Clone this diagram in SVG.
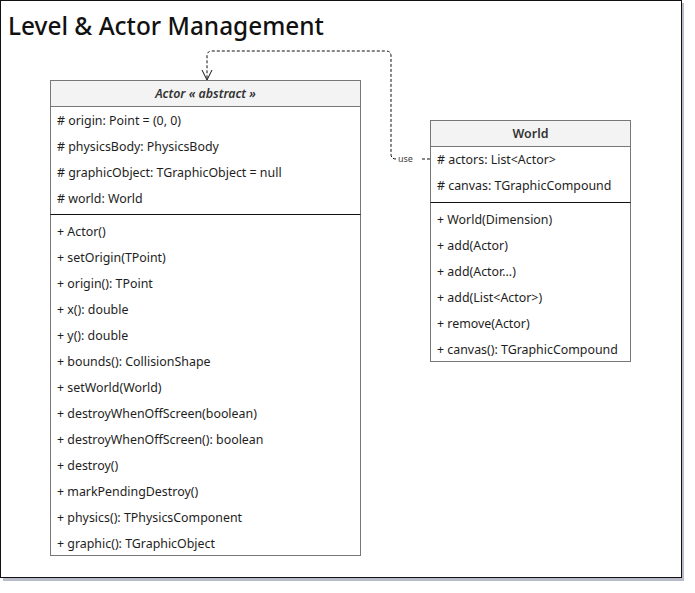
<svg xmlns="http://www.w3.org/2000/svg" width="695" height="593" viewBox="0 0 695 593">
<defs>
<style>
.t{font-family:"Noto Sans","Liberation Sans",sans-serif;font-size:12.4px;fill:#1e1e1e}
.h{font-family:"Noto Sans","Liberation Sans",sans-serif;font-size:12.4px;fill:#333;font-weight:600;text-anchor:middle}
.box{fill:#fff;stroke:#777;stroke-width:1}
.hd{fill:#f3f3f3;stroke:#777;stroke-width:1}
.sep{stroke:#111;stroke-width:1}
.conn{fill:none;stroke:#111;stroke-width:1;stroke-dasharray:3,2}
</style>
<marker id="open" viewBox="0 0 12 12" refX="11" refY="6" markerWidth="12" markerHeight="12" orient="auto" markerUnits="userSpaceOnUse">
<path d="M1,1 L11,6 L1,11" fill="none" stroke="#111" stroke-width="1"/>
</marker>
</defs>
<rect x="0" y="0" width="695" height="593" fill="#fff"/>
<rect x="3" y="3" width="681" height="578" fill="#b8bcc8"/>
<rect x="0.5" y="0.5" width="681" height="577" fill="#fff" stroke="#111" stroke-width="1"/>
<text x="8" y="35" style="font-family:'Noto Sans','Liberation Sans',sans-serif;font-size:24.4px;font-weight:550;fill:#111">Level &amp; Actor Management</text>

<g id="connectors">
<path class="conn" d="M430,159 L420,159 M396,159 Q391,159 391,154 L391,56 Q391,51 386,51 L212,51 Q207,51 207,56 L207,80" marker-end="url(#open)"/>
<text x="398" y="162" style="font-family:'Noto Sans','Liberation Sans',sans-serif;font-size:9px;fill:#444">use</text>
</g>

<g id="Actor">
<rect class="box" x="50.5" y="80.5" width="310" height="475"/>
<rect class="hd" x="50.5" y="80.5" width="310" height="26"/>
<text class="h" x="205.5" y="98" font-style="italic">Actor « abstract »</text>
<text class="t">
<tspan x="57" y="125"># origin: Point = (0, 0)</tspan>
<tspan x="57" y="151"># physicsBody: PhysicsBody</tspan>
<tspan x="57" y="177"># graphicObject: TGraphicObject = null</tspan>
<tspan x="57" y="203"># world: World</tspan>
</text>
<line class="sep" x1="50.5" y1="214.5" x2="360.5" y2="214.5"/>
<text class="t">
<tspan x="57" y="236">+ Actor()</tspan>
<tspan x="57" y="262">+ setOrigin(TPoint)</tspan>
<tspan x="57" y="288">+ origin(): TPoint</tspan>
<tspan x="57" y="314">+ x(): double</tspan>
<tspan x="57" y="340">+ y(): double</tspan>
<tspan x="57" y="366">+ bounds(): CollisionShape</tspan>
<tspan x="57" y="392">+ setWorld(World)</tspan>
<tspan x="57" y="418">+ destroyWhenOffScreen(boolean)</tspan>
<tspan x="57" y="444">+ destroyWhenOffScreen(): boolean</tspan>
<tspan x="57" y="470">+ destroy()</tspan>
<tspan x="57" y="496">+ markPendingDestroy()</tspan>
<tspan x="57" y="522">+ physics(): TPhysicsComponent</tspan>
<tspan x="57" y="548">+ graphic(): TGraphicObject</tspan>
</text>
</g>

<g id="World">
<rect class="box" x="430.5" y="120.5" width="200" height="241"/>
<rect class="hd" x="430.5" y="120.5" width="200" height="26"/>
<text class="h" x="530.5" y="138">World</text>
<text class="t">
<tspan x="437" y="164"># actors: List&lt;Actor&gt;</tspan>
<tspan x="437" y="190"># canvas: TGraphicCompound</tspan>
</text>
<line class="sep" x1="430.5" y1="202.5" x2="630.5" y2="202.5"/>
<text class="t">
<tspan x="437" y="224">+ World(Dimension)</tspan>
<tspan x="437" y="250">+ add(Actor)</tspan>
<tspan x="437" y="276">+ add(Actor...)</tspan>
<tspan x="437" y="302">+ add(List&lt;Actor&gt;)</tspan>
<tspan x="437" y="328">+ remove(Actor)</tspan>
<tspan x="437" y="354">+ canvas(): TGraphicCompound</tspan>
</text>
</g>
</svg>
